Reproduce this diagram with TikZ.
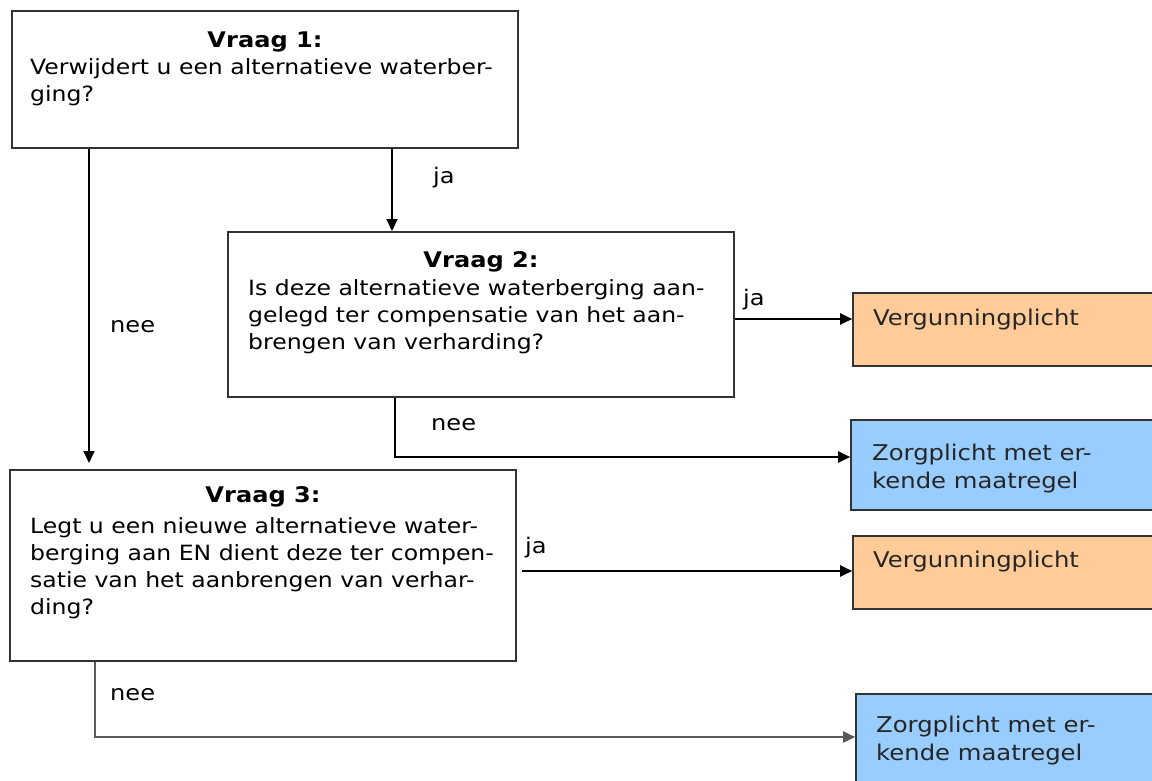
\documentclass[tikz,border=0pt]{standalone}
\usepackage{fontspec}
\setmainfont{DejaVu Sans}[FakeStretch=1.12]
\usetikzlibrary{arrows.meta}
\definecolor{peach}{HTML}{FFCC99}
\definecolor{sky}{HTML}{99CCFF}
\definecolor{edge}{HTML}{333333}
\begin{document}
\begin{tikzpicture}[x=1pt,y=-1pt,
  qbox/.style={draw=edge, line width=2pt, fill=white, inner sep=0pt, minimum width=506pt},
  rbox/.style={draw=edge, line width=1.6pt, inner sep=0pt},
  qtitle/.style={anchor=base, inner sep=0pt, font=\fontsize{21.5}{27}\selectfont\bfseries},
  qtext/.style={anchor=base west, inner sep=0pt, align=left, font=\fontsize{21}{27}\selectfont},
  rtext/.style={anchor=base west, inner sep=0pt, align=left, font=\fontsize{21.7}{28}\selectfont, text=black!85},
  lbl/.style={anchor=base west, inner sep=0pt, font=\fontsize{21.5}{27}\selectfont},
  conn/.style={draw=black, line width=2pt},
  arr/.style={conn, -{Triangle[length=12pt,width=11pt]}},
]
\clip (0,0) rectangle (1152,780);
% question boxes
\node[qbox, minimum height=137pt] (q1) at (265,79.5) {};
\node[qbox, minimum height=165pt] (q2) at (481,314.5) {};
\node[qbox, minimum height=191pt] (q3) at (263,565.5) {};
% result boxes
\node[rbox, fill=peach, minimum width=307pt, minimum height=73pt] (o1) at (1006.5,329.5) {};
\node[rbox, fill=sky, minimum width=309pt, minimum height=90pt] (b1) at (1005.5,465) {};
\node[rbox, fill=peach, minimum width=307pt, minimum height=73pt] (o2) at (1006.5,572.5) {};
\node[rbox, fill=sky, minimum width=304pt, minimum height=96pt] (b2) at (1008,742) {};
% texts (multi-line nodes are placed by the baseline of their last line)
\node[qtitle] (t1) at (265,47) {Vraag 1:};
\node[qtext] (x1) at (30,101) {Verwijdert u een alternatieve waterber-\\ging?};
\node[qtitle] (t2) at (481,267) {Vraag 2:};
\node[qtext] (x2) at (248,349) {Is deze alternatieve waterberging aan-\\gelegd ter compensatie van het aan-\\brengen van verharding?};
\node[qtitle] (t3) at (263,502) {Vraag 3:};
\node[qtext] (x3) at (30,614) {Legt u een nieuwe alternatieve water-\\berging aan EN dient deze ter compen-\\satie van het aanbrengen van verhar-\\ding?};
\node[rtext] (r1) at (873,325) {Vergunningplicht};
\node[rtext] (r2) at (872,488) {Zorgplicht met er-\\kende maatregel};
\node[rtext] (r3) at (873,567) {Vergunningplicht};
\node[rtext] (r4) at (876,760) {Zorgplicht met er-\\kende maatregel};
% connectors
\draw[arr, shorten >=6pt] ([xshift=78pt]q1.south west) -- ([xshift=78pt]q1.south west |- q3.north);
\draw[arr] ([xshift=381pt]q1.south west) -- ([xshift=381pt]q1.south west |- q2.north);
\draw[arr] ([yshift=-4.5pt]q2.east) -- ([yshift=-4.5pt]q2.east -| o1.west);
\draw[arr] ([xshift=168pt]q2.south west) |- ([yshift=8pt]b1.west);
\draw[arr] ([xshift=5pt,yshift=-5.5pt]q3.east) -- ([yshift=-5.5pt]q3.east -| o2.west);
\draw[arr, draw=black!65] ([xshift=86pt]q3.south west) |- ([yshift=5pt]b2.west);
% labels
\node[lbl] (l1) at (433,183) {ja};
\node[lbl] (l2) at (110,332) {nee};
\node[lbl] (l3) at (743,305) {ja};
\node[lbl] (l4) at (431,430) {nee};
\node[lbl] (l5) at (525,553) {ja};
\node[lbl] (l6) at (110,700) {nee};
\end{tikzpicture}
\end{document}
